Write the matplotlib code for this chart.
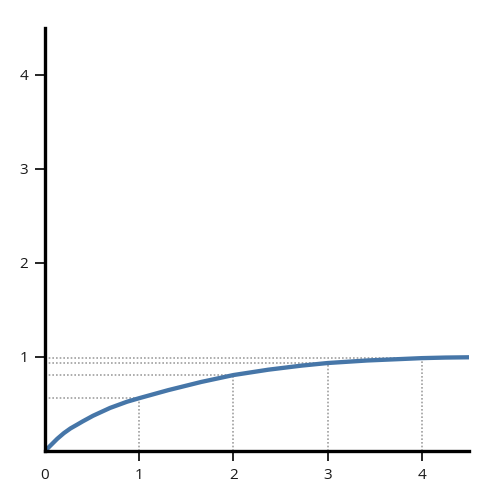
import matplotlib
matplotlib.use("Agg")
import matplotlib.pyplot as plt

# curve values
curve_x = [0, 0.06, 0.13, 0.2, 0.27, 0.34, 0.4, 0.51, 0.69, 0.87, 1.0, 1.31, 1.66, 2.0, 2.37, 2.72, 3.0, 3.42, 3.77, 4.0, 4.25, 4.5]
curve_y = [0, 0.06, 0.13, 0.19, 0.24, 0.28, 0.315, 0.375, 0.458, 0.524, 0.562, 0.648, 0.735, 0.808, 0.865, 0.908, 0.936, 0.963, 0.978, 0.988, 0.994, 0.997]

# marked points (dotted projections)
mark_x = [1, 2, 3, 4]
mark_y = [0.562, 0.808, 0.936, 0.988]

x_ticks = [0, 1, 2, 3, 4]
x_tick_labels = ["0", "1", "2", "3", "4"]
y_ticks = [1, 2, 3, 4]
y_tick_labels = ["1", "2", "3", "4"]

plt.rcParams['font.family'] = ['Open Sans', 'DejaVu Sans']

fig = plt.figure(figsize=(5, 5), dpi=100)
ax = fig.add_axes([0.09, 0.098, 0.848, 0.846])

dot_kw = dict(color="#a0a0a0", linewidth=1.2, linestyle=(0, (1, 1.2)), zorder=1)
for mx, my in zip(mark_x, mark_y):
    ax.plot([0, mx], [my, my], **dot_kw)
    ax.plot([mx, mx], [0, my], **dot_kw)

ax.plot(curve_x, curve_y, color="#4676a8", linewidth=3.1,
        solid_capstyle="round", solid_joinstyle="round", zorder=3)

ax.set_xlim(0, 4.5)
ax.set_ylim(0, 4.5)

for side in ("top", "right"):
    ax.spines[side].set_visible(False)
for side in ("left", "bottom"):
    ax.spines[side].set_linewidth(2.4)
    ax.spines[side].set_color("black")
    ax.spines[side].set_zorder(4)

ax.set_xticks(x_ticks)
ax.set_xticklabels(x_tick_labels)
ax.set_yticks(y_ticks)
ax.set_yticklabels(y_tick_labels)
ax.tick_params(axis="both", direction="out", length=7, width=1.2,
               labelsize=11, color="black", labelcolor="#1a1a1a", pad=5)
ax.xaxis.get_major_ticks()[0].tick1line.set_visible(False)

fig.savefig("out.png", dpi=100)
